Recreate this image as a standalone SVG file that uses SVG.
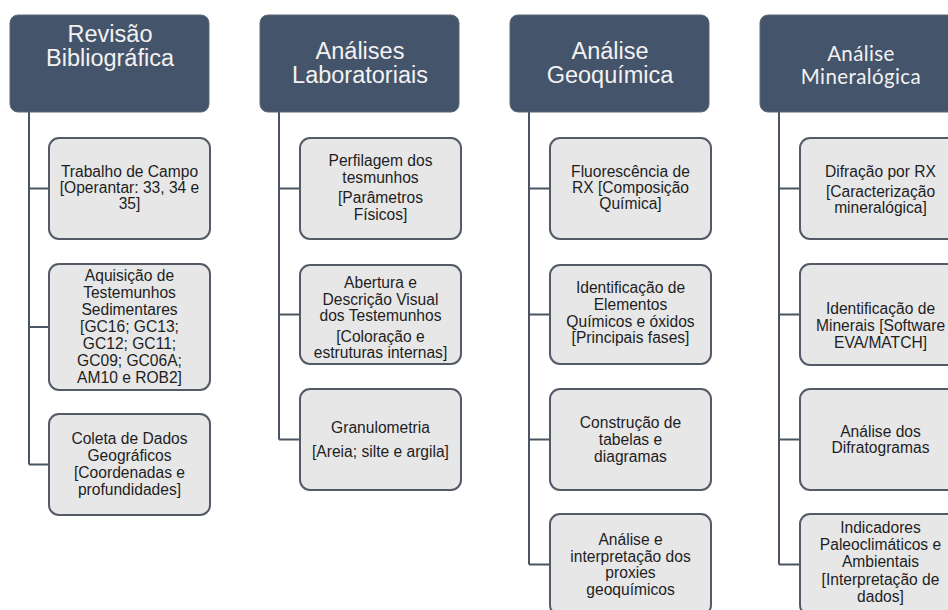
<svg xmlns="http://www.w3.org/2000/svg" width="948" height="610" viewBox="0 0 948 610">
<style>
.hdr{fill:#44546a;stroke:#5d6878;stroke-width:1}
.box{fill:#e7e7e8;stroke:#545b67;stroke-width:2}
.ht{font-family:"Liberation Sans",Arial,sans-serif;font-size:23.5px;fill:#f2f2f2;text-anchor:middle}
.ht4{font-family:Lato,"Open Sans",sans-serif;font-size:20.5px;letter-spacing:0.4px;fill:#f2f2f2;text-anchor:middle}
.bt{font-family:"Liberation Sans",Arial,sans-serif;font-size:15.6px;fill:#1e1e1e;text-anchor:middle}
.con{fill:none;stroke:#4b5463;stroke-width:2}
</style>
<rect width="948" height="610" fill="#ffffff"/>
<g id="connectors">
<path class="con" d="M29,112 V464.5 M29,188.5 H49 M29,327 H49 M29,464.5 H49"/>
<path class="con" d="M279,112 V439.5 M279,188.5 H300 M279,314.5 H300 M279,439.5 H300"/>
<path class="con" d="M529,112 V564.5 M529,188.5 H550 M529,314.5 H550 M529,439.5 H550 M529,564.5 H550"/>
<path class="con" d="M779,112 V564.5 M779,188.5 H800 M779,314.5 H800 M779,439.5 H800 M779,564.5 H800"/>
</g>
<g id="h1"><rect class="hdr" x="10" y="15" width="199" height="97" rx="8"/>
<text class="ht" x="110" y="42">Revisão</text><text class="ht" x="110" y="66">Bibliográfica</text></g>
<g id="h2"><rect class="hdr" x="260" y="15" width="199" height="97" rx="8"/>
<text class="ht" x="360" y="59">Análises</text><text class="ht" x="360" y="83">Laboratoriais</text></g>
<g id="h3"><rect class="hdr" x="510" y="15" width="199" height="97" rx="8"/>
<text class="ht" x="610" y="59">Análise</text><text class="ht" x="610" y="83">Geoquímica</text></g>
<g id="h4"><rect class="hdr" x="760" y="15" width="199" height="97" rx="8"/>
<text class="ht4" x="861" y="60.5">Análise</text><text class="ht4" x="861" y="83.5">Mineralógica</text></g>

<g id="b1a"><rect class="box" x="49" y="138" width="161" height="101" rx="10"/>
<text class="bt" x="129.5" y="177">Trabalho de Campo</text><text class="bt" x="129.5" y="193">[Operantar: 33, 34 e</text><text class="bt" x="129.5" y="209">35]</text></g>
<g id="b1b"><rect class="box" x="49" y="264" width="161" height="126" rx="10"/>
<text class="bt" x="129.5" y="281">Aquisição de</text><text class="bt" x="129.5" y="298">Testemunhos</text><text class="bt" x="129.5" y="315">Sedimentares</text><text class="bt" x="129.5" y="332">[GC16; GC13;</text><text class="bt" x="129.5" y="349">GC12; GC11;</text><text class="bt" x="129.5" y="366">GC09; GC06A;</text><text class="bt" x="129.5" y="383">AM10 e ROB2]</text></g>
<g id="b1c"><rect class="box" x="49" y="414" width="161" height="101" rx="10"/>
<text class="bt" x="129.5" y="444">Coleta de Dados</text><text class="bt" x="129.5" y="461">Geográficos</text><text class="bt" x="129.5" y="478">[Coordenadas e</text><text class="bt" x="129.5" y="495">profundidades]</text></g>

<g id="b2a"><rect class="box" x="300" y="138" width="161" height="101" rx="10"/>
<text class="bt" x="380.5" y="166">Perfilagem dos</text><text class="bt" x="380.5" y="183">tesmunhos</text><text class="bt" x="380.5" y="203">[Parâmetros</text><text class="bt" x="380.5" y="220">Físicos]</text></g>
<g id="b2b"><rect class="box" x="300" y="265" width="161" height="99" rx="10"/>
<text class="bt" x="380.5" y="288">Abertura e</text><text class="bt" x="380.5" y="305">Descrição Visual</text><text class="bt" x="380.5" y="321">dos Testemunhos</text><text class="bt" x="380.5" y="342">[Coloração e</text><text class="bt" x="380.5" y="358">estruturas internas]</text></g>
<g id="b2c"><rect class="box" x="300" y="389" width="161" height="101" rx="10"/>
<text class="bt" x="380.5" y="433">Granulometria</text><text class="bt" x="380.5" y="457">[Areia; silte e argila]</text></g>

<g id="b3a"><rect class="box" x="550" y="138" width="161" height="101" rx="10"/>
<text class="bt" x="630.5" y="177">Fluorescência de</text><text class="bt" x="630.5" y="193">RX [Composição</text><text class="bt" x="630.5" y="209">Química]</text></g>
<g id="b3b"><rect class="box" x="550" y="265" width="161" height="99" rx="10"/>
<text class="bt" x="630.5" y="293">Identificação de</text><text class="bt" x="630.5" y="310">Elementos</text><text class="bt" x="630.5" y="327">Químicos e óxidos</text><text class="bt" x="630.5" y="343">[Principais fases]</text></g>
<g id="b3c"><rect class="box" x="550" y="389" width="161" height="101" rx="10"/>
<text class="bt" x="630.5" y="428">Construção de</text><text class="bt" x="630.5" y="445">tabelas e</text><text class="bt" x="630.5" y="462">diagramas</text></g>
<g id="b3d"><rect class="box" x="550" y="514" width="161" height="101" rx="10"/>
<text class="bt" x="630.5" y="545">Análise e</text><text class="bt" x="630.5" y="562">interpretação dos</text><text class="bt" x="630.5" y="578">proxies</text><text class="bt" x="630.5" y="595">geoquímicos</text></g>

<g id="b4a"><rect class="box" x="800" y="138" width="161" height="101" rx="10"/>
<text class="bt" x="880.5" y="177">Difração por RX</text><text class="bt" x="880.5" y="197">[Caracterização</text><text class="bt" x="880.5" y="213">mineralógica]</text></g>
<g id="b4b"><rect class="box" x="800" y="264" width="161" height="101" rx="10"/>
<text class="bt" x="880.5" y="314">Identificação de</text><text class="bt" x="880.5" y="331">Minerais [Software</text><text class="bt" x="880.5" y="348">EVA/MATCH]</text></g>
<g id="b4c"><rect class="box" x="800" y="389" width="161" height="101" rx="10"/>
<text class="bt" x="880.5" y="437">Análise dos</text><text class="bt" x="880.5" y="453">Difratogramas</text></g>
<g id="b4d"><rect class="box" x="800" y="514" width="161" height="101" rx="10"/>
<text class="bt" x="880.5" y="533">Indicadores</text><text class="bt" x="880.5" y="550">Paleoclimáticos e</text><text class="bt" x="880.5" y="567">Ambientais</text><text class="bt" x="880.5" y="585">[Interpretação de</text><text class="bt" x="880.5" y="602">dados]</text></g>
</svg>
